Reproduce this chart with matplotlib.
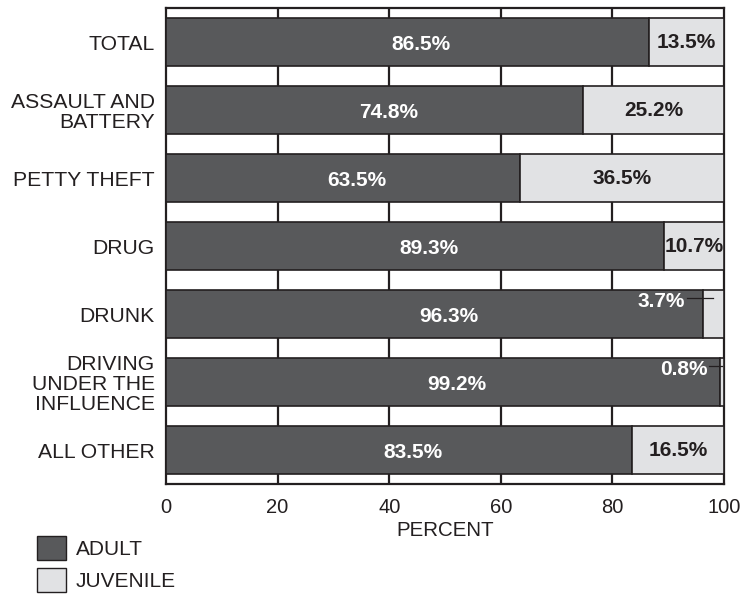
import matplotlib
matplotlib.use("Agg")
from matplotlib import pyplot as plt
from matplotlib.patches import Patch

categories = ["TOTAL", "ASSAULT AND\nBATTERY", "PETTY THEFT", "DRUG", "DRUNK",
              "DRIVING\nUNDER THE\nINFLUENCE", "ALL OTHER"]
adult = [86.5, 74.8, 63.5, 89.3, 96.3, 99.2, 83.5]
juvenile = [13.5, 25.2, 36.5, 10.7, 3.7, 0.8, 16.5]
x_ticks = [0, 20, 40, 60, 80, 100]

ADULT_C = "#58595b"
JUV_C = "#e1e2e4"
EDGE = "#231f20"

# small juvenile shares get a white label inside the adult bar with a leader line
# (text right edge, line end) in data units
callouts = {4: (93.0, 98.0), 5: (97.1, 99.6)}

plt.rcParams["font.family"] = ["Liberation Sans", "DejaVu Sans"]

fig = plt.figure(figsize=(7.55, 5.97), dpi=100)
ax = fig.add_axes([166 / 755, 1 - 484 / 597, (724 - 166) / 755, (484 - 8) / 597])

pos = list(range(len(categories)))
ax.barh(pos, adult, height=0.72, color=ADULT_C, edgecolor=EDGE, linewidth=1.2, zorder=3)
ax.barh(pos, juvenile, left=adult, height=0.72, color=JUV_C, edgecolor=EDGE,
        linewidth=1.2, zorder=3)

for i, (a, j) in enumerate(zip(adult, juvenile)):
    ax.text(a / 2 + 2.5, i + 0.04, f"{a}%", ha="center", va="center", color="white",
            fontsize=15, fontweight="bold", zorder=5)
    if i in callouts:
        tx, lx = callouts[i]
        ty = i - 0.19
        ax.text(tx, ty, f"{j}%", ha="right", va="center", color="white",
                fontsize=15, fontweight="bold", zorder=5)
        ax.plot([tx + 0.3, lx], [ty - 0.05, ty - 0.05], color=EDGE, lw=0.9, zorder=6)
    else:
        ax.text(a + j / 2, i, f"{j}%", ha="center", va="center", color=EDGE,
                fontsize=15, fontweight="bold", zorder=5)

ax.set_xlim(0, 100)
ax.set_ylim(6.5, -0.5)
ax.set_xticks(x_ticks)
ax.set_yticks(pos)
ax.set_yticklabels(categories, linespacing=1.05)
ax.tick_params(axis="both", length=0, labelsize=14.5, colors=EDGE)
ax.tick_params(axis="y", pad=8)
ax.tick_params(axis="x", pad=10)
for lab in ax.get_yticklabels():
    lab.set_fontsize(15.2)

for gx in x_ticks[1:-1]:
    ax.axvline(gx, color=EDGE, lw=1.6, zorder=1)
for s in ax.spines.values():
    s.set_color(EDGE)
    s.set_linewidth(1.6)

ax.set_xlabel("PERCENT", fontsize=14.8, color=EDGE, labelpad=3)

handles = [Patch(facecolor=ADULT_C, edgecolor=EDGE, linewidth=1.0),
           Patch(facecolor=JUV_C, edgecolor=EDGE, linewidth=1.0)]
fig.legend(handles, ["ADULT", "JUVENILE"], loc="upper left",
           bbox_to_anchor=(37 / 755, 1 - 536 / 597), frameon=False, fontsize=15,
           handlelength=1.4, handleheight=1.4, handletextpad=0.45,
           labelspacing=0.4, borderpad=0, borderaxespad=0, labelcolor=EDGE)

plt.savefig("out.png", dpi=100)
